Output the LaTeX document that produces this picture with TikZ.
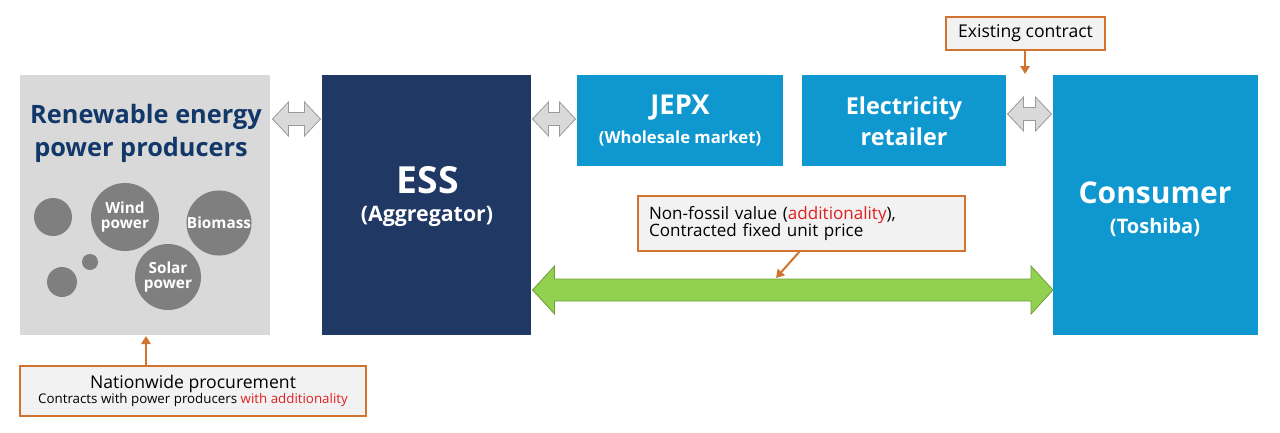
\documentclass[tikz,border=0pt]{standalone}
\usepackage{fontspec}
\setmainfont{Open Sans}
\usetikzlibrary{calc,arrows.meta}
\definecolor{navy}{HTML}{203864}
\definecolor{titlenavy}{HTML}{12386A}
\definecolor{blu}{HTML}{0E98CF}
\definecolor{lgray}{HTML}{D9D9D9}
\definecolor{cgray}{HTML}{7F7F7F}
\definecolor{agray}{HTML}{D9D9D9}
\definecolor{agrayline}{HTML}{9A9A9A}
\definecolor{grn}{HTML}{92D050}
\definecolor{grnline}{HTML}{6E9E3A}
\definecolor{org}{HTML}{D0742F}
\definecolor{callfill}{HTML}{F2F2F2}
\definecolor{redtxt}{HTML}{E02020}
\newcommand\fs[1]{\fontsize{#1}{#1}\selectfont}
\newcommand\grayarrow[2]{%
  \draw[garrow] (#1) -- ($(#1)+(16,-17)$) -- ($(#1)+(16,-6.5)$) -- ($(#2)+(-16,-6.5)$)
    -- ($(#2)+(-16,-17)$) -- (#2) -- ($(#2)+(-16,17)$) -- ($(#2)+(-16,6.5)$)
    -- ($(#1)+(16,6.5)$) -- ($(#1)+(16,17)$) -- cycle;}
\tikzset{
  box/.style={draw=none, inner sep=0pt, outer sep=0pt},
  callout/.style={draw=org, line width=1.3pt, fill=callfill, inner sep=0pt, outer sep=0pt},
  garrow/.style={draw=agrayline, fill=agray, line width=0.6pt, line join=miter},
  oarrow/.style={draw=org, line width=1.5pt, -{Triangle[length=6pt,width=7pt]}},
  bubble/.style={circle, fill=cgray, inner sep=0pt, text=white, font=\bfseries\fs{11.5}, align=center},
  wlabel/.style={text=white, font=\bfseries, align=center, inner sep=0pt},
}
\begin{document}
\begin{tikzpicture}[x=0.75pt,y=-0.75pt]
\useasboundingbox (0,0) rectangle (1280,432);
% main boxes
\node[box, fill=lgray, minimum width={250*0.75pt}, minimum height={260*0.75pt}] (ren) at (145,205) {};
\node[box, fill=navy, minimum width={209*0.75pt}, minimum height={260*0.75pt}] (ess) at (426.5,205) {};
\node[box, fill=blu, minimum width={206*0.75pt}, minimum height={91*0.75pt}] (jepx) at (680,120.5) {};
\node[box, fill=blu, minimum width={204*0.75pt}, minimum height={91*0.75pt}] (ret) at (904,120.5) {};
\node[box, fill=blu, minimum width={205*0.75pt}, minimum height={260*0.75pt}] (con) at (1155.5,205) {};
% texts
\node[text=titlenavy, font=\bfseries\fs{19}, inner sep=0pt] (rt1) at (146,117) {Renewable energy};
\node[text=titlenavy, font=\bfseries\fs{19}, inner sep=0pt] (rt2) at (141,150) {power producers};
\node[wlabel, font=\bfseries\fs{28}] (esst) at (428,180) {ESS};
\node[wlabel, font=\bfseries\fs{16}] (essa) at (427,216) {(Aggregator)};
\node[wlabel, font=\bfseries\fs{20.5}] (jt) at (680,108) {JEPX};
\node[wlabel, font=\bfseries\fs{12.5}] (jw) at (680,138) {(Wholesale market)};
\node[wlabel, font=\bfseries\fs{17.5}] (rt) at (904,108) {Electricity};
\node[wlabel, font=\bfseries\fs{17.5}] (rr) at (904,137) {retailer};
\node[wlabel, font=\bfseries\fs{22.5}] (ct) at (1155,193) {Consumer};
\node[wlabel, font=\bfseries\fs{15}] (cs) at (1155,227) {(Toshiba)};
% bubbles
\node[bubble, minimum size={38*0.75pt}] (b1) at (53,217) {};
\node[bubble, minimum size={68*0.75pt}] (b2) at (125,217) {Wind\\power};
\node[bubble, minimum size={64*0.75pt}] (b3) at (219,223) {Biomass};
\node[bubble, minimum size={16*0.75pt}] (b4) at (90,262) {};
\node[bubble, minimum size={30*0.75pt}] (b5) at (62,282) {};
\node[bubble, minimum size={66*0.75pt}] (b6) at (168,277) {Solar\\power};
% gray double arrows
\coordinate (g1a) at ($(ren.east |- 0,119)+(2.5,0)$);
\coordinate (g1b) at ($(ess.west |- 0,119)+(-1.5,0)$);
\coordinate (g2a) at ($(ess.east |- 0,119)+(1.5,0)$);
\coordinate (g2b) at ($(jepx.west |- 0,119)+(-1.5,0)$);
\coordinate (g3a) at ($(ret.east |- 0,114)+(1.5,0)$);
\coordinate (g3b) at ($(con.west |- 0,114)+(-1.5,0)$);
\grayarrow{g1a}{g1b}
\grayarrow{g2a}{g2b}
\grayarrow{g3a}{g3b}
% green double arrow
\coordinate (ga) at ($(ess.east |- 0,290)+(1.5,0)$);
\coordinate (gb) at (con.west |- 0,290);
\draw[draw=grnline, fill=grn, line width=0.6pt]
  (ga) -- ($(ga)+(22,-24)$) -- ($(ga)+(22,-11)$) -- ($(gb)+(-22,-11)$) -- ($(gb)+(-22,-24)$)
  -- (gb) -- ($(gb)+(-22,24)$) -- ($(gb)+(-22,11)$) -- ($(ga)+(22,11)$) -- ($(ga)+(22,24)$) -- cycle;
% callouts
\node[callout, minimum width={159*0.75pt}, minimum height={33*0.75pt}, font=\fs{13.2}] (exist) at (1025.5,33.5) {Existing contract};
\node[callout, minimum width={327*0.75pt}, minimum height={55*0.75pt}, font=\fs{12.8}, align=left, text width={305*0.75pt}] (nonf) at (801.5,223.5)
  {Non-fossil value (\textcolor{redtxt}{additionality}),\\[-1pt]Contracted fixed unit price};
\node[callout, minimum width={346*0.75pt}, minimum height={50*0.75pt}, align=center] (nat) at (193,391)
  {{\fs{13.2}Nationwide procurement}\\[-1pt]{\fs{10}Contracts with power producers \textcolor{redtxt}{with additionality}}};
% orange arrows
\coordinate (e1) at (1025,74);
\draw[oarrow] (exist.south -| e1) -- (e1);
\coordinate (n1) at (800,251);
\coordinate (n2) at (776,278);
\draw[oarrow] (nonf.south -| n1) -- (n2);
\coordinate (p1) at (146,336);
\draw[oarrow] (nat.north -| p1) -- (p1);
\end{tikzpicture}
\end{document}
